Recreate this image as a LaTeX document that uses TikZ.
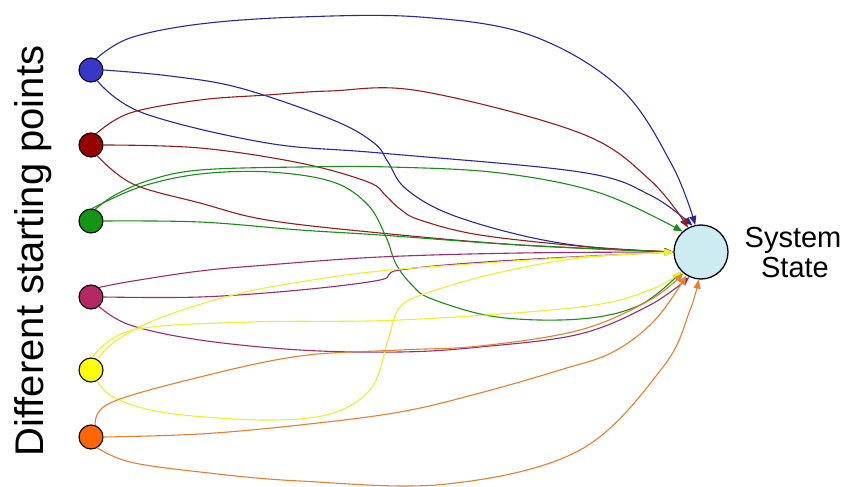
\documentclass[tikz,border=0pt]{standalone}
\usepackage{fontspec}
\newfontfamily\arialf{Liberation Sans}
\usetikzlibrary{arrows.meta}
\definecolor{cbn}{RGB}{55,55,200}
\definecolor{cbl}{RGB}{40,40,150}
\definecolor{crn}{RGB}{150,0,0}
\definecolor{crl}{RGB}{145,30,30}
\definecolor{cgn}{RGB}{20,150,20}
\definecolor{cgl}{RGB}{25,140,25}
\definecolor{cmn}{RGB}{180,40,100}
\definecolor{cml}{RGB}{150,45,110}
\definecolor{cyn}{RGB}{255,255,0}
\definecolor{cyl}{RGB}{238,238,50}
\definecolor{con}{RGB}{255,102,0}
\definecolor{col}{RGB}{230,128,45}
\definecolor{ctg}{RGB}{205,236,242}
\tikzset{
  start/.style={circle, draw=black, line width=1.1pt, minimum size=24pt, inner sep=0pt},
  tgt/.style={circle, draw=black, line width=1.3pt, minimum size=54pt, inner sep=0pt, fill=ctg},
  flow/.style={line width=1.1pt, -{Triangle[length=9pt,width=7pt]}},
  lbl/.style={font=\arialf\fontsize{29}{30}\selectfont, inner sep=0pt, anchor=base},
}
\begin{document}
\begin{tikzpicture}[x=1pt,y=-1pt]
\fill[white] (0,0) rectangle (847,487);
\useasboundingbox (0,0) rectangle (847,487);

\node[start, fill=cbn] (b) at (91,70) {};
\node[start, fill=crn] (r) at (91,145) {};
\node[start, fill=cgn] (g) at (91,221) {};
\node[start, fill=cmn] (m) at (91,297) {};
\node[start, fill=cyn] (y) at (91,370) {};
\node[start, fill=con] (o) at (91,437) {};
\node[tgt] (T) at (701,252) {};

\node[lbl] (l1) at (793,247) {System};
\node[lbl] (l2) at (795,277) {State};
\node[font=\arialf\fontsize{40}{40}\selectfont, rotate=90, anchor=base, inner sep=0pt] (side) at (43,251) {Different starting points};

% blue
\draw[flow, cbl] plot[smooth, tension=0.6] coordinates {(b.65) (130,38) (200,24) (300,17) (420,17) (530,35) (620,88) (672,165) (T.102)};
\draw[flow, cbl] plot[smooth, tension=0.6] coordinates {(b.-60) (143,113) (267,143) (380,153) (580,172) (650,195) (T.108)};
\draw[flow, cbl] plot[smooth, tension=0.6] coordinates {(b.east) (170,76) (240,88) (333,120) (374,143) (388,162) (405,188) (447,213) (520,235) (590,247) (T.180)};
% red
\draw[flow, crl] plot[smooth, tension=0.6] coordinates {(r.65) (130,113) (200,100) (267,95) (330,91) (420,91) (580,133) (650,180) (T.118)};
\draw[flow, crl] plot[smooth, tension=0.6] coordinates {(r.east) (200,148) (300,163) (368,182) (386,196) (400,209) (420,220) (480,235) (590,247) (T.180)};
\draw[flow, crl] plot[smooth, tension=0.6] coordinates {(r.-60) (133,184) (200,203) (267,220) (380,233) (520,245) (T.180)};
% green
\draw[flow, cgl] plot[smooth, tension=0.6] coordinates {(g.70) (115,195) (150,180) (200,170) (300,167) (390,167) (500,173) (600,193) (T.132)};
\draw[flow, cgl] plot[smooth, tension=0.6] coordinates {(g.85) (140,187) (200,174) (270,172) (333,182) (368,205) (386,237) (396,264) (412,285) (432,299) (497,317) (580,319) (640,305) (T.225)};
\draw[flow, cgl] plot[smooth, tension=0.6] coordinates {(g.east) (200,222) (300,230) (380,235) (520,245) (T.180)};
% magenta
\draw[flow, cml] plot[smooth, tension=0.6] coordinates {(m.50) (133,281) (200,271) (267,265) (380,257) (520,253) (T.180)};
\draw[flow, cml] plot[smooth, tension=0.6] coordinates {(m.east) (200,297) (300,290) (380,280) (400,270) (500,261) (T.180)};
\draw[flow, cml] plot[smooth, tension=0.6] coordinates {(m.-50) (130,325) (200,340) (300,350) (400,352) (480,347) (580,334) (650,305) (T.245)};
% yellow
\draw[flow, cyl] plot[smooth, tension=0.6] coordinates {(y.60) (117,340) (160,318) (233,295) (300,282) (380,271) (500,262) (580,257) (T.180)};
\draw[flow, cyl] plot[smooth, tension=0.6] coordinates {(y.85) (133,330) (250,322) (400,320) (580,307) (650,290) (T.225)};
\draw[flow, cyl] plot[smooth, tension=0.6] coordinates {(y.-60) (115,398) (167,413) (267,420) (333,413) (372,387) (388,340) (400,307) (430,292) (497,273) (580,258) (T.180)};
% orange
\draw[flow, col] plot[smooth, tension=0.6] coordinates {(o.70) (110,403) (200,377) (300,356) (400,350) (480,346) (580,330) (650,300) (T.230)};
\draw[flow, col] plot[smooth, tension=0.6] coordinates {(o.east) (200,434) (300,425) (400,412) (480,393) (560,370) (613,352) (655,320) (T.238)};
\draw[flow, col] plot[smooth, tension=0.6] coordinates {(o.-60) (130,462) (200,472) (300,481) (447,484) (580,450) (663,367) (690,310) (T.265)};
\end{tikzpicture}
\end{document}
